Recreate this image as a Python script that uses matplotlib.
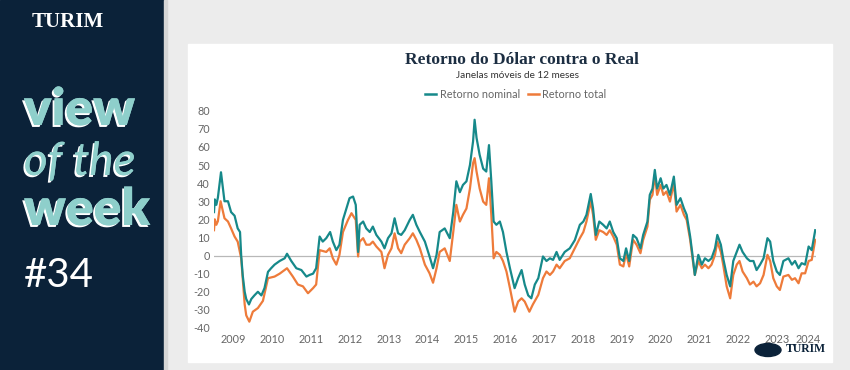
import matplotlib
matplotlib.use("Agg")
import matplotlib.pyplot as plt
from matplotlib.patches import Rectangle, Ellipse
from matplotlib.lines import Line2D
import matplotlib.patheffects as pe

# ---------------- data (decimal years, 12m rolling return %) ----------------
anos_nominal = [
    2009.00, 2009.02, 2009.06, 2009.10, 2009.18, 2009.27, 2009.36, 2009.44, 2009.53, 2009.61,
    2009.67, 2009.70, 2009.74, 2009.79, 2009.83, 2009.90, 2009.96, 2010.04, 2010.13, 2010.22,
    2010.30, 2010.39, 2010.47, 2010.56, 2010.69, 2010.82, 2010.88, 2010.99, 2011.12, 2011.25,
    2011.38, 2011.46, 2011.55, 2011.63, 2011.72, 2011.80, 2011.89, 2011.99, 2012.06, 2012.15,
    2012.23, 2012.32, 2012.41, 2012.49, 2012.58, 2012.65, 2012.71, 2012.75, 2012.84, 2012.92,
    2013.01, 2013.09, 2013.18, 2013.31, 2013.39, 2013.48, 2013.57, 2013.65, 2013.74, 2013.82,
    2013.91, 2014.04, 2014.12, 2014.21, 2014.30, 2014.43, 2014.55, 2014.64, 2014.73, 2014.81,
    2014.94, 2015.07, 2015.16, 2015.24, 2015.33, 2015.41, 2015.50, 2015.59, 2015.67, 2015.71,
    2015.76, 2015.84, 2015.93, 2016.01, 2016.08, 2016.14, 2016.20, 2016.27, 2016.36, 2016.44,
    2016.53, 2016.62, 2016.74, 2016.83, 2016.92, 2017.00, 2017.09, 2017.17, 2017.26, 2017.35,
    2017.47, 2017.56, 2017.65, 2017.73, 2017.82, 2017.90, 2018.03, 2018.16, 2018.29, 2018.42,
    2018.51, 2018.59, 2018.70, 2018.76, 2018.83, 2018.92, 2019.02, 2019.11, 2019.19, 2019.28,
    2019.37, 2019.45, 2019.54, 2019.61, 2019.69, 2019.79, 2019.88, 2019.98, 2020.05, 2020.16,
    2020.22, 2020.29, 2020.35, 2020.41, 2020.50, 2020.57, 2020.65, 2020.74, 2020.84, 2020.91,
    2021.01, 2021.10, 2021.17, 2021.26, 2021.32, 2021.38, 2021.47, 2021.56, 2021.64, 2021.73,
    2021.81, 2021.90, 2021.96, 2022.05, 2022.11, 2022.20, 2022.29, 2022.37, 2022.46, 2022.53,
    2022.61, 2022.72, 2022.80, 2022.89, 2022.97, 2023.06, 2023.15, 2023.25, 2023.32, 2023.40,
    2023.49, 2023.57, 2023.66, 2023.79, 2023.88, 2023.96, 2024.05, 2024.13, 2024.22, 2024.31,
    2024.39, 2024.48,
]
retorno_nominal = [
    24, 31, 28, 32, 46, 30, 30, 24, 22, 15,
    13, 0, -11, -20, -24, -27, -24, -22, -20, -22,
    -18, -9, -7, -5, -3, -1.5, 1, -3, -7, -8,
    -11.6, -10.7, -10, -7, 10.5, 7.7, 9.6, 13, 7.7, 3,
    6, 19.7, 26, 31.7, 32.6, 28, 2, 17, 18.8, 15,
    13, 16, 11.4, 7.7, 4, 9.6, 12.3, 20.6, 12.3, 11.4,
    14, 19.7, 22.5, 17, 13, 7.7, -0.5, -7, 0.4, 13,
    15, 9.6, 24, 41, 35, 39, 41, 50, 63, 75,
    65, 55.6, 48, 46.4, 61, 41, 18.8, 17, 18.8, 13,
    2, -7, -18, -12.5, -8, -16, -22, -23.6, -16, -12.5,
    -0.5, -3, -1.5, -2.4, 2, -2.4, 2, 4, 8.5, 17,
    18.8, 22.5, 34, 26, 11.4, 18.8, 17, 15, 18.8, 13,
    9.6, -1.5, -3, 4, -3, 11.4, 9.6, 4, 11.4, 18.8,
    33.5, 37, 47.3, 37, 42.7, 37, 39, 33.5, 43.6, 28,
    31.7, 26, 22.5, 10.5, 0.4, -10.7, 0.4, -5, -1.5, -3,
    -1.5, 4, 11.4, 6, -1.5, -10.7, -17, -3, 2, 6,
    2, -1.5, -3, -3, -8, -5, -1.5, 9.6, 7.7, -3,
    -8.8, -10.7, -3, -1.5, -5, -3, -7, -4.2, -5, 5,
    3, 14,
]

anos_total = [
    2009.00, 2009.02, 2009.06, 2009.10, 2009.17, 2009.27, 2009.36, 2009.44, 2009.53, 2009.61,
    2009.70, 2009.79, 2009.83, 2009.91, 2010.00, 2010.13, 2010.26, 2010.39, 2010.56, 2010.69,
    2010.88, 2011.03, 2011.16, 2011.29, 2011.42, 2011.55, 2011.63, 2011.72, 2011.89, 2011.98,
    2012.06, 2012.15, 2012.23, 2012.32, 2012.45, 2012.54, 2012.65, 2012.71, 2012.75, 2012.84,
    2012.92, 2013.01, 2013.09, 2013.18, 2013.31, 2013.39, 2013.48, 2013.57, 2013.65, 2013.74,
    2013.82, 2013.91, 2014.04, 2014.12, 2014.21, 2014.30, 2014.43, 2014.55, 2014.64, 2014.73,
    2014.81, 2014.94, 2015.07, 2015.16, 2015.24, 2015.33, 2015.41, 2015.50, 2015.59, 2015.67,
    2015.71, 2015.76, 2015.84, 2015.93, 2016.01, 2016.08, 2016.14, 2016.20, 2016.27, 2016.36,
    2016.44, 2016.53, 2016.62, 2016.74, 2016.83, 2016.92, 2017.00, 2017.12, 2017.21, 2017.35,
    2017.47, 2017.56, 2017.65, 2017.73, 2017.82, 2017.90, 2018.03, 2018.16, 2018.29, 2018.42,
    2018.51, 2018.59, 2018.70, 2018.76, 2018.83, 2018.92, 2019.02, 2019.11, 2019.19, 2019.28,
    2019.37, 2019.45, 2019.54, 2019.61, 2019.69, 2019.79, 2019.88, 2019.98, 2020.05, 2020.16,
    2020.22, 2020.29, 2020.35, 2020.41, 2020.50, 2020.57, 2020.65, 2020.74, 2020.84, 2020.91,
    2021.01, 2021.10, 2021.17, 2021.26, 2021.32, 2021.38, 2021.47, 2021.56, 2021.64, 2021.73,
    2021.81, 2021.90, 2021.96, 2022.05, 2022.11, 2022.20, 2022.29, 2022.37, 2022.46, 2022.53,
    2022.61, 2022.72, 2022.80, 2022.89, 2022.97, 2023.06, 2023.15, 2023.25, 2023.32, 2023.40,
    2023.49, 2023.57, 2023.66, 2023.79, 2023.88, 2023.96, 2024.05, 2024.13, 2024.22, 2024.31,
    2024.39, 2024.48,
]
retorno_total = [
    14, 20, 17, 19, 30, 20.6, 18.8, 15, 10.5, 7.7,
    -1.5, -27, -33, -36.5, -31, -29, -25, -12.5, -11.6, -10,
    -7, -11.6, -16, -17, -20.8, -18, -16, 3, 2, 4,
    -1.5, -5, 0.4, 13, 19.7, 23.4, 19.7, -0.5, 7.7, 9.6,
    6, 6, 7.7, 5, 2, -7, 0.4, 4, 12.3, 4,
    1.3, 6, 9.6, 12.3, 8.7, 4, -5, -9.8, -15, -7,
    2, 4, -3, 13, 28, 18.8, 22.5, 26, 37, 51,
    53.8, 46.4, 37, 29.8, 28, 42.7, 22.5, -1.5, 2, 0.4,
    -3, -8.8, -18, -31, -25.4, -23.6, -25.4, -31, -27, -21.7,
    -12.5, -8.8, -10.7, -8.8, -5, -7, -3, -1.5, 4, 9.6,
    13, 18.8, 30, 22.5, 8.7, 14, 13, 11.4, 14, 10.5,
    6, -5, -6, 1.3, -6, 8.7, 6, 1.3, 8.7, 16,
    30.8, 33.5, 44.6, 33.5, 39, 33.5, 35.4, 29.8, 40, 24.3,
    28, 22.5, 19.7, 8.7, -1.5, -10.7, -3, -7, -5, -7,
    -5, 0.4, 7.7, 2, -5, -17, -23.6, -10.7, -5, -3,
    -8.8, -12.5, -16, -14.4, -17, -15.3, -10.7, 0.4, -3, -12.5,
    -17, -19, -11.6, -10.7, -13.4, -12.5, -15.3, -9.8, -9.8, -3,
    -2.4, 8.7,
]

rotulos_anos = ["2009", "2010", "2011", "2012", "2013", "2014", "2015", "2016",
                "2017", "2018", "2019", "2020", "2021", "2022", "2023", "2024"]
posicoes_rotulos = [2009.5, 2010.5, 2011.5, 2012.5, 2013.5, 2014.5, 2015.5, 2016.5,
                    2017.5, 2018.5, 2019.5, 2020.5, 2021.5, 2022.5, 2023.5, 2024.3]
ticks_y = [-40, -30, -20, -10, 0, 10, 20, 30, 40, 50, 60, 70, 80]

assert len(anos_nominal) == len(retorno_nominal)
assert len(anos_total) == len(retorno_total)

# ---------------- style ----------------
W, H = 850, 370
NAVY = "#0b2239"
TEAL = "#16898a"
ORANGE = "#ee7b3a"
LIGHT_TEAL = "#8ecfcb"
BG = "#ececec"
TXT = "#666666"


def fx(px):
    return px / W


def fy(py):
    return 1 - py / H


fig = plt.figure(figsize=(W / 100, H / 100), dpi=100, facecolor=BG)

# left navy panel + border strip
fig.add_artist(Rectangle((0, 0), fx(164), 1, transform=fig.transFigure,
                         color=NAVY, zorder=0))
fig.add_artist(Rectangle((fx(164), 0), fx(3), 1, transform=fig.transFigure,
                         color="#d6d6d6", zorder=0))
# white chart card
fig.add_artist(Rectangle((fx(188), fy(362)), fx(832 - 188), (362 - 44) / H,
                         transform=fig.transFigure, color="white", zorder=0))

# left panel texts
fig.text(fx(68), fy(22), "TURIM", family="Liberation Serif", fontweight="bold",
         fontsize=15, color="white", ha="center", va="center")
shadow = [pe.withSimplePatchShadow(offset=(-1.4, -1.4), shadow_rgbFace="white", alpha=1.0),
          pe.Normal()]
fig.text(fx(24), fy(125), "view", family="Lato", fontweight="heavy", fontsize=37,
         color=LIGHT_TEAL, ha="left", va="baseline", path_effects=shadow)
fig.text(fx(24), fy(175), "of the", family="Lato", style="italic", fontsize=33,
         color=LIGHT_TEAL, ha="left", va="baseline", path_effects=shadow)
fig.text(fx(24), fy(225), "week", family="Lato", fontweight="heavy", fontsize=37,
         color=LIGHT_TEAL, ha="left", va="baseline", path_effects=shadow)
fig.text(fx(24), fy(287), "#34", family="Lato", fontweight="normal", fontsize=29,
         color="white", ha="left", va="baseline")

# titles
fig.text(fx(522), fy(60), "Retorno do Dólar contra o Real", family="Liberation Serif",
         fontweight="bold", fontsize=12.5, color="#1c2e42", ha="center", va="center")
fig.text(fx(518), fy(76), "Janelas móveis de 12 meses", family="Lato",
         fontsize=7.2, color="#333333", ha="center", va="center")

# axes
ax = fig.add_axes([fx(214), fy(328), fx(816 - 214), (328 - 110.7) / H])
ax.set_facecolor("none")
ax.axhline(0, color="#b8b8b8", lw=0.9, zorder=1)
ax.plot(anos_total, retorno_total, color=ORANGE, lw=1.6, zorder=2)
ax.plot(anos_nominal, retorno_nominal, color=TEAL, lw=1.6, zorder=3)
ax.set_xlim(2009.0, 2024.5)
ax.set_ylim(-40, 80)
ax.set_yticks(ticks_y)
ax.set_yticklabels([str(v) for v in ticks_y])
ax.set_xticks(posicoes_rotulos)
ax.set_xticklabels(rotulos_anos)
for s in ax.spines.values():
    s.set_visible(False)
ax.tick_params(axis="both", length=0, labelsize=7.8, labelcolor=TXT)
ax.tick_params(axis="y", pad=3)
ax.tick_params(axis="x", pad=4)
for lab in ax.get_xticklabels() + ax.get_yticklabels():
    lab.set_family("Lato")

# legend
handles = [Line2D([], [], color=TEAL, lw=1.8), Line2D([], [], color=ORANGE, lw=1.8)]
fig.legend(handles, ["Retorno nominal", "Retorno total"], loc="center",
           bbox_to_anchor=(fx(516), fy(94)), ncol=2, frameon=False,
           prop={"family": "Lato", "size": 7.8}, labelcolor=TXT,
           handlelength=1.0, handletextpad=0.3, columnspacing=0.8)

# bottom-right logo
fig.add_artist(Ellipse((fx(768), fy(350)), fx(26), 13 / H, transform=fig.transFigure,
                       color=NAVY, zorder=1))
fig.text(fx(806), fy(349), "TURIM", family="Liberation Serif", fontweight="bold",
         fontsize=8.5, color=NAVY, ha="center", va="center")

fig.savefig("out.png", dpi=100, facecolor=BG)
